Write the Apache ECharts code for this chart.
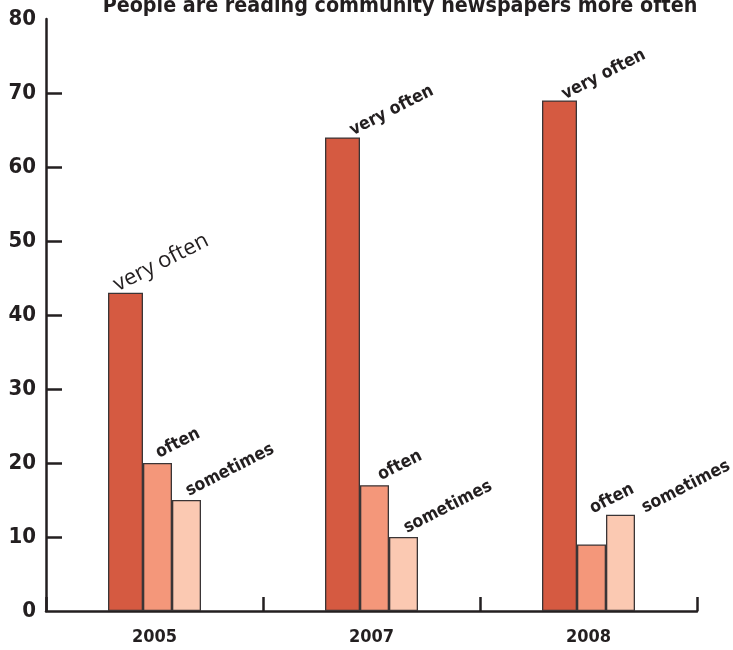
<!DOCTYPE html>
<html>
<head>
<meta charset="utf-8">
<script src="https://cdn.jsdelivr.net/npm/echarts@6/dist/echarts.min.js"></script>
<style>
html,body{margin:0;padding:0;background:#fff;}
#chart{width:733px;height:650px;}
</style>
</head>
<body>
<div id="chart"></div>
<script>
const titleText = 'People are reading community newspapers more often';
const categories = ['2005', '2007', '2008'];
const seriesNames = ['very often', 'often', 'sometimes'];
const veryOften = [43, 64, 69];
const often = [20, 17, 9];
const sometimes = [15, 10, 13];
const yTicks = [0, 10, 20, 30, 40, 50, 60, 70, 80];

const FONT = '"DejaVu Sans Condensed", "Liberation Sans Narrow", sans-serif';
const INK = '#231f20';
const colors = ['#d55a41', '#f4977a', '#fbc9b2'];
const widths = [35, 29, 29];
// label offsets relative to the bar's top-left corner (style only)
const labelOffsets = [
  [[12, 3], [30, 2], [25, 3]],
  [[18, -1], [23, -1], [18, -27]],
  [[19, 0], [20, 0], [41, 2]]
];
const values = [veryOften, often, sometimes];

const chart = echarts.init(document.getElementById('chart'));
const series = values.map((vals, s) => ({
  name: seriesNames[s],
  type: 'bar',
  barWidth: widths[s],
  barGap: '0%',
  itemStyle: { color: colors[s], borderColor: '#3a3536', borderWidth: 1.3 },
  data: vals.map((v, i) => {
    const regular = (s === 0 && i === 0);
    return {
      value: v,
      label: {
        show: true,
        formatter: seriesNames[s],
        position: labelOffsets[s][i],
        rotate: 27,
        align: 'left',
        verticalAlign: 'bottom',
        color: INK,
        fontFamily: regular ? '"Open Sans", sans-serif' : FONT,
        fontWeight: regular ? 'normal' : 'bold',
        fontSize: regular ? 22 : 17.5
      }
    };
  })
}));

chart.setOption({
  animation: false,
  title: {
    text: titleText,
    left: 395,
    textAlign: 'center',
    top: -9,
    textStyle: { fontFamily: FONT, fontWeight: 'bold', fontSize: 21.3, color: INK }
  },
  grid: { left: 46, right: 36, top: 19, bottom: 39 },
  xAxis: {
    type: 'category',
    data: categories,
    boundaryGap: true,
    axisLine: { lineStyle: { color: INK, width: 2.5 } },
    axisTick: { show: true, inside: true, length: 14, alignWithLabel: false, lineStyle: { color: INK, width: 2.5 } },
    axisLabel: { margin: 17, color: INK, fontFamily: FONT, fontWeight: 'bold', fontSize: 18 }
  },
  yAxis: {
    type: 'value',
    min: 0,
    max: 80,
    interval: 10,
    splitLine: { show: false },
    axisLine: { show: true, lineStyle: { color: INK, width: 2.5 } },
    axisTick: { show: true, inside: true, length: 16, customValues: yTicks.slice(1, -1), lineStyle: { color: INK, width: 2.5 } },
    axisLabel: { margin: 10, color: INK, fontFamily: FONT, fontWeight: 'bold', fontSize: 22 }
  },
  series: series
});
</script>
</body>
</html>
